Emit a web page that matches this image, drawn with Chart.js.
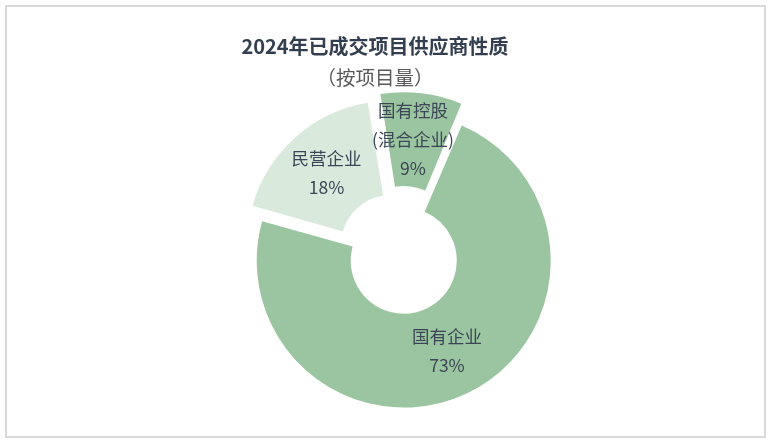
<!DOCTYPE html>
<html lang="zh-CN">
<head>
<meta charset="utf-8">
<script src="https://cdn.jsdelivr.net/npm/chart.js@4.4.1/dist/chart.umd.min.js"></script>
<style>
  body { margin: 0; background: #fff; }
  #wrap { position: relative; width: 772px; height: 444px; overflow: hidden; }
  #frame { position: absolute; left: 5px; top: 5px; width: 761px; height: 433px;
           box-sizing: border-box; border: 2px solid #d9d9d9; }
  #chart { position: absolute; left: 0; top: 0; }
  .ttl { position: absolute; left: 0; width: 750px; text-align: center;
         font-family: "Noto Sans CJK SC", "Noto Sans", sans-serif; white-space: nowrap; }
  #title { top: 33px; font-size: 20px; line-height: 26px; font-weight: bold; color: #333f50; }
  #subtitle { top: 63px; font-size: 19.5px; line-height: 28px; color: #595959; }
</style>
</head>
<body>
<div id="wrap">
  <div id="frame"></div>
  <canvas id="chart" width="772" height="444"></canvas>
  <div class="ttl" id="title">2024年已成交项目供应商性质</div>
  <div class="ttl" id="subtitle">（按项目量）</div>
</div>
<script>
// data
const categories = [['国有企业'], ['民营企业'], ['国有控股', '(混合企业)']];
const shares = [73, 18, 9];
const sliceColors = ['#9bc5a0', '#d9eadc', '#9bc5a0'];
const explode = [16, 63, 60];

// draw slice labels at the middle of each (exploded) arc
const sliceLabels = {
    id: 'sliceLabels',
    afterDatasetsDraw(chart) {
        const ctx = chart.ctx;
        const meta = chart.getDatasetMeta(0);
        ctx.save();
        ctx.fillStyle = '#3c4656';
        ctx.font = '17.5px "Noto Sans CJK SC", "Noto Sans", sans-serif';
        ctx.textAlign = 'center';
        ctx.textBaseline = 'middle';
        meta.data.forEach((arc, i) => {
            const p = arc.getProps(['x', 'y', 'startAngle', 'endAngle', 'innerRadius', 'outerRadius', 'circumference']);
            const t = (arc.options.offset || 0) / 4;
            const fix = 1 - Math.sin(Math.min(Math.PI, p.circumference));
            const mid = (p.startAngle + p.endAngle) / 2;
            const r = (p.innerRadius + p.outerRadius) / 2 + t * fix + t;
            const cx = p.x + Math.cos(mid) * r - (i === 2 ? 3 : 0);
            const cy = p.y + Math.sin(mid) * r;
            const lines = categories[i].concat([shares[i] + '%']);
            const lh = 29;
            const y0 = cy - (lines.length - 1) * lh / 2;
            lines.forEach((s, k) => ctx.fillText(s, cx, y0 + k * lh));
        });
        ctx.restore();
    }
};

new Chart(document.getElementById('chart'), {
    type: 'doughnut',
    data: {
        labels: categories.map(c => c.join('')),
        datasets: [{
            data: shares,
            backgroundColor: sliceColors,
            borderWidth: 0,
            offset: explode
        }]
    },
    options: {
        responsive: false,
        animation: false,
        rotation: 23,
        radius: 143,
        cutout: '34.3%',
        layout: {
            padding: { left: 222, right: 190, top: 77, bottom: 7 }
        },
        plugins: {
            legend: { display: false },
            tooltip: { enabled: false }
        }
    },
    plugins: [sliceLabels]
});
</script>
</body>
</html>
